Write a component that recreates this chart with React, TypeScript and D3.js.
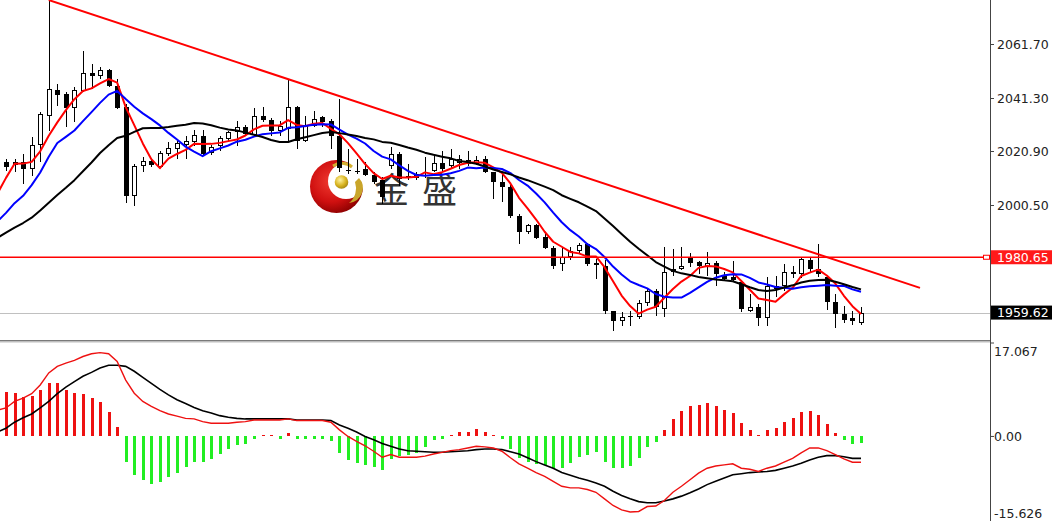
import React from "react";
import * as d3 from "d3";

// closes before the first visible bar (only used for the moving averages)
const warmupCloses = [1976, 1978, 1980, 1983, 1981, 1985, 1984, 1982, 1986, 1983, 1983, 1980, 1986, 1983, 1987, 1985, 1990, 2014, 2020];

const opens = [2016.4, 2016.9, 2015.7, 2016.9, 2014.2, 2023.3, 2034.3, 2044.2, 2042.7, 2037.4, 2043.8, 2050.7, 2049.5, 2051.8, 2045.7, 2037.8, 2004.0, 2015.3, 2017.2, 2015.0, 2019.9, 2021.8, 2023.3, 2024.6, 2026.9, 2020.3, 2023.1, 2025.6, 2028.3, 2030.2, 2027.1, 2034.3, 2032.8, 2028.6, 2029.4, 2037.8, 2024.9, 2030.5, 2033.9, 2032.4, 2026.7, 2013.4, 2013.2, 2014.2, 2011.9, 2010.0, 2015.3, 2019.9, 2010.8, 2012.3, 2011.5, 2013.4, 2016.5, 2015.3, 2016.5, 2017.6, 2016.1, 2018.0, 2013.0, 2009.3, 2007.4, 1996.3, 1990.3, 1992.9, 1988.4, 1984.2, 1978.1, 1980.8, 1983.0, 1985.7, 1978.5, 1977.3, 1960.2, 1956.4, 1958.0, 1958.0, 1963.3, 1967.9, 1961.0, 1976.2, 1976.2, 1980.4, 1978.8, 1977.0, 1978.5, 1973.5, 1973.1, 1971.2, 1960.3, 1961.8, 1957.6, 1969.7, 1969.7, 1975.0, 1974.3, 1979.6, 1976.2, 1973.1, 1963.7, 1959.0, 1957.6, 1956.0];
const highs = [2017.5, 2018.0, 2018.0, 2019.9, 2026.4, 2035.9, 2078.4, 2046.5, 2043.5, 2045.4, 2059.0, 2054.1, 2053.0, 2052.2, 2048.4, 2038.9, 2016.1, 2018.8, 2018.0, 2021.1, 2024.5, 2025.6, 2026.7, 2029.1, 2029.1, 2023.3, 2026.7, 2028.6, 2032.4, 2031.0, 2037.4, 2037.8, 2033.6, 2032.4, 2048.0, 2038.1, 2034.3, 2036.2, 2034.3, 2033.2, 2040.8, 2021.8, 2018.0, 2016.9, 2013.0, 2011.0, 2022.6, 2020.7, 2016.1, 2013.0, 2018.8, 2019.1, 2021.1, 2021.8, 2019.5, 2021.1, 2019.1, 2019.0, 2013.2, 2012.3, 2008.0, 1997.0, 1993.3, 1993.3, 1990.0, 1985.0, 1984.6, 1984.6, 1986.1, 1986.1, 1980.0, 1979.6, 1960.2, 1959.8, 1960.2, 1964.5, 1968.7, 1968.7, 1984.6, 1983.8, 1984.6, 1982.3, 1979.2, 1982.7, 1979.2, 1975.0, 1979.2, 1971.6, 1966.5, 1962.9, 1973.1, 1973.5, 1978.1, 1977.3, 1980.8, 1980.4, 1985.7, 1973.5, 1966.5, 1962.1, 1960.2, 1961.8];
const lows = [2014.0, 2013.4, 2013.0, 2008.5, 2011.5, 2016.9, 2028.6, 2038.1, 2030.2, 2032.1, 2043.5, 2044.6, 2048.4, 2045.4, 2037.0, 2001.3, 2000.1, 2013.0, 2015.0, 2014.6, 2019.1, 2018.0, 2018.0, 2023.0, 2019.2, 2019.5, 2021.0, 2024.5, 2023.0, 2026.7, 2026.3, 2032.0, 2026.7, 2026.7, 2024.5, 2021.8, 2024.5, 2030.2, 2030.2, 2021.8, 2013.0, 2012.2, 2012.2, 2011.5, 2008.5, 2001.0, 2014.2, 2007.7, 2010.0, 2010.0, 2010.8, 2013.0, 2013.0, 2014.2, 2014.2, 2015.3, 2015.7, 2012.8, 2002.8, 2001.7, 1995.5, 1985.7, 1989.5, 1987.5, 1983.8, 1976.2, 1975.4, 1979.6, 1982.3, 1977.3, 1972.4, 1959.0, 1952.6, 1954.5, 1954.5, 1957.0, 1962.0, 1958.4, 1958.0, 1973.5, 1975.8, 1977.0, 1974.3, 1973.5, 1969.7, 1971.6, 1971.2, 1960.0, 1959.8, 1954.5, 1954.5, 1965.6, 1967.9, 1972.7, 1972.7, 1975.0, 1973.1, 1960.6, 1953.8, 1955.6, 1955.0, 1955.0];
const closes = [2015.1, 2015.0, 2016.9, 2014.2, 2023.3, 2035.1, 2044.6, 2042.3, 2037.4, 2044.2, 2050.7, 2049.5, 2051.8, 2045.7, 2037.4, 2004.0, 2015.3, 2017.2, 2015.7, 2020.3, 2022.2, 2024.1, 2025.0, 2027.1, 2019.9, 2022.6, 2026.0, 2028.3, 2030.2, 2027.5, 2034.3, 2032.8, 2028.6, 2030.5, 2037.8, 2024.9, 2030.5, 2033.2, 2032.0, 2026.7, 2014.5, 2013.7, 2013.6, 2011.9, 2009.3, 2003.5, 2019.9, 2010.4, 2011.5, 2010.8, 2011.9, 2016.5, 2014.2, 2018.0, 2018.0, 2016.1, 2017.6, 2013.0, 2009.3, 2007.4, 1996.3, 1990.3, 1992.9, 1988.0, 1984.2, 1977.3, 1980.8, 1983.0, 1985.3, 1978.1, 1977.7, 1960.2, 1956.4, 1958.0, 1958.2, 1963.3, 1967.9, 1961.8, 1975.0, 1975.0, 1977.3, 1978.5, 1977.3, 1978.5, 1974.3, 1972.4, 1972.0, 1961.0, 1961.8, 1957.6, 1969.7, 1968.6, 1975.0, 1974.3, 1980.0, 1976.2, 1974.3, 1963.7, 1959.0, 1956.8, 1956.4, 1959.62];

const macdDif = [4.8, 5.2, 6.4, 7.0, 7.8, 9.4, 11.6, 12.8, 13.4, 13.9, 14.6, 15.1, 15.3, 15.1, 13.7, 10.3, 7.9, 6.4, 5.5, 4.7, 4.1, 3.7, 3.3, 3.2, 2.7, 2.4, 2.4, 2.4, 2.6, 2.7, 3.0, 3.0, 3.0, 3.0, 3.2, 2.9, 2.9, 2.9, 2.9, 2.6, 1.2, 0.0, -0.9, -1.7, -2.7, -3.8, -3.3, -3.8, -3.8, -3.8, -3.6, -3.2, -2.9, -2.6, -2.4, -2.1, -1.8, -1.9, -2.1, -2.7, -3.9, -5.0, -5.8, -6.6, -7.3, -8.2, -9.1, -9.4, -9.4, -9.7, -10.2, -11.4, -12.6, -13.4, -13.8, -13.7, -12.8, -12.7, -11.7, -10.2, -9.1, -7.9, -6.7, -5.8, -5.4, -5.2, -5.0, -5.8, -6.0, -6.4, -5.8, -5.4, -4.7, -4.0, -3.0, -2.1, -2.1, -2.6, -3.3, -4.1, -4.7, -4.7];
const macdDea = [0.8, 1.5, 2.6, 3.4, 4.1, 5.2, 6.4, 7.8, 9.0, 10.0, 11.0, 11.7, 12.5, 13.0, 13.0, 12.8, 11.9, 10.8, 9.7, 8.6, 7.6, 6.7, 6.0, 5.3, 4.7, 4.3, 3.8, 3.5, 3.3, 3.2, 3.2, 3.2, 3.2, 3.2, 3.2, 3.0, 3.0, 3.0, 3.0, 2.9, 2.1, 1.5, 0.8, 0.0, -0.6, -1.3, -1.8, -2.3, -2.6, -2.7, -2.8, -2.9, -2.9, -2.8, -2.7, -2.6, -2.4, -2.3, -2.3, -2.4, -2.8, -3.2, -3.9, -4.6, -5.2, -5.8, -6.6, -7.1, -7.6, -8.0, -8.5, -9.1, -10.0, -10.8, -11.4, -11.9, -12.1, -12.1, -11.8, -11.4, -10.9, -10.3, -9.6, -8.8, -8.2, -7.6, -7.0, -6.8, -6.6, -6.5, -6.4, -6.2, -5.8, -5.4, -4.9, -4.3, -3.8, -3.5, -3.5, -3.7, -4.0, -4.0];
const macdHist = [7.5, 8.2, 8.0, 7.2, 7.4, 8.5, 9.7, 9.7, 8.4, 7.9, 7.8, 7.0, 6.2, 4.4, 1.7, -4.6, -7.0, -8.0, -8.6, -8.4, -7.4, -6.6, -5.6, -4.6, -4.6, -4.1, -3.2, -2.3, -1.5, -1.3, -0.5, 0.2, 0.1, -0.5, 0.6, -0.5, -0.5, -0.4, -0.4, -0.9, -3.0, -4.3, -4.9, -5.2, -5.6, -6.2, -4.1, -3.5, -3.3, -3.0, -1.9, -0.7, -0.4, 0.1, 0.9, 0.9, 1.3, 0.85, 0.3, -0.5, -2.3, -4.0, -4.6, -5.0, -5.2, -5.8, -5.8, -4.9, -3.7, -3.3, -2.9, -4.6, -5.8, -5.7, -5.4, -4.0, -2.0, -1.1, 1.2, 3.2, 4.6, 5.5, 5.8, 6.1, 5.5, 4.9, 4.3, 2.4, 1.2, 0.2, 1.1, 1.5, 2.7, 3.3, 4.4, 4.6, 4.0, 2.3, 0.6, -0.6, -1.3, -1.2];

const priceTicks = ["2061.70", "2041.30", "2020.90", "2000.50"];
const macdTicks = ["17.067", "0.00", "-15.626"];
const levelPrice = 1980.65;
const lastPrice = 1959.62;
const trendLine = [
  { bar: 6, price: 2078.4 },
  { bar: 107.9, price: 1969.0 },
];
const maPeriods = [5, 10, 20];
const maColors = ["#ff0000", "#0000ff", "#000000"];

export default function App() {
  const W = 1052;
  const H = 521;
  const axisX = 990;
  const n = closes.length;
  const x = d3.scaleLinear().domain([0, n - 1]).range([-2.55, 861]);
  const y = d3.scaleLinear().domain([1949.2, 2078.8]).range([340, -1]);
  const ym = d3.scaleLinear().domain([-15.626, 17.067]).range([522, 343]);

  const all = warmupCloses.concat(closes);
  const w0 = warmupCloses.length;
  const sma = (p: number) =>
    closes.map((_, i) => d3.mean(all.slice(i + w0 - p + 1, i + w0 + 1)) as number);

  const priceLine = d3
    .line<number>()
    .x((_, i) => x(i))
    .y((d) => y(d));
  const macdLine = d3
    .line<number>()
    .x((_, i) => x(i))
    .y((d) => ym(d));

  const font = "DejaVu Sans, Verdana, sans-serif";
  const macdLabelY = [351, ym(0), 513];

  return (
    <svg
      width={W}
      height={H}
      style={{ position: "fixed", left: 0, top: 0, background: "#fff" }}
      fontFamily={font}
    >
      <defs>
        <clipPath id="mainClip">
          <rect x={0} y={0} width={axisX} height={340} />
        </clipPath>
        <clipPath id="macdClip">
          <rect x={0} y={343} width={axisX} height={H - 343} />
        </clipPath>
        <radialGradient id="redGrad" cx="40%" cy="40%" r="65%">
          <stop offset="0%" stopColor="#f03a30" />
          <stop offset="60%" stopColor="#d01010" />
          <stop offset="100%" stopColor="#8a0000" />
        </radialGradient>
        <radialGradient id="goldGrad" cx="40%" cy="35%" r="70%">
          <stop offset="0%" stopColor="#fff2a0" />
          <stop offset="60%" stopColor="#d8b420" />
          <stop offset="100%" stopColor="#a08010" />
        </radialGradient>
      </defs>
      <rect x={0} y={0} width={W} height={H} fill="#fff" />

      {/* watermark logo */}
      <g>
        <circle cx={336.5} cy={186.5} r={26.5} fill="url(#redGrad)" />
        <circle cx={346} cy={181} r={18} fill="#fff" />
        <path d="M 333 166 A 16 16 0 0 1 352 167" fill="none" stroke="#d4b030" strokeWidth={3} />
        <path d="M 359 178 A 15 15 0 0 1 349 203 A 19 19 0 0 0 355 182 Z" fill="#c9a52a" />
        <circle cx={341.5} cy={182} r={6.8} fill="url(#goldGrad)" />
        <text x={374} y={203} fontSize={35} fill="#333" fontFamily="Noto Sans CJK SC">金</text>
        <text x={422} y={203} fontSize={35} fill="#333" fontFamily="Noto Sans CJK SC">盛</text>
      </g>

      {/* main panel */}
      <g clipPath="url(#mainClip)">
        <line x1={0} x2={axisX} y1={Math.round(y(lastPrice)) + 0.5} y2={Math.round(y(lastPrice)) + 0.5} stroke="#c0c0c0" strokeWidth={1} />
        {closes.map((c, i) => {
          const cx = Math.round(x(i));
          const o = opens[i];
          const top = y(Math.max(o, c));
          const bot = y(Math.min(o, c));
          const bull = c >= o;
          const h = bot - top;
          return (
            <g key={i} shapeRendering="crispEdges">
              <line x1={cx + 0.5} x2={cx + 0.5} y1={y(highs[i])} y2={y(lows[i])} stroke="#000" strokeWidth={1} />
              {h < 1.5 ? (
                <line x1={cx - 2} x2={cx + 3} y1={Math.round(top) + 0.5} y2={Math.round(top) + 0.5} stroke="#000" />
              ) : bull ? (
                <rect x={cx - 1.5} y={Math.round(top) + 0.5} width={4} height={Math.round(h) - 1} fill="#fff" stroke="#000" strokeWidth={1} />
              ) : (
                <rect x={cx - 2} y={Math.round(top)} width={5} height={Math.round(h)} fill="#000" />
              )}
            </g>
          );
        })}
        {maPeriods.map((p, k) => (
          <path key={p} d={priceLine(sma(p)) || ""} fill="none" stroke={maColors[k]} strokeWidth={2} strokeLinejoin="round" />
        ))}
        <line
          x1={x(trendLine[0].bar)}
          y1={y(trendLine[0].price)}
          x2={x(trendLine[1].bar)}
          y2={y(trendLine[1].price)}
          stroke="#ff0000"
          strokeWidth={2}
        />
        <line x1={0} x2={axisX} y1={y(levelPrice)} y2={y(levelPrice)} stroke="#ff0000" strokeWidth={1.6} />
        <rect x={983.5} y={y(levelPrice) - 2} width={6} height={4} fill="#fff" stroke="#ff0000" strokeWidth={1} />
      </g>

      {/* panel separator */}
      <rect x={0} y={340} width={axisX} height={1.5} fill="#7a7a7a" />
      <rect x={0} y={341.5} width={axisX} height={1} fill="#c0c0c0" />

      {/* MACD panel */}
      <g clipPath="url(#macdClip)">
        {macdHist.map((v, i) => {
          const cx = Math.round(x(i));
          const y0 = ym(0);
          const y1 = ym(v);
          const hh = Math.max(1.5, Math.abs(y1 - y0));
          return (
            <rect
              key={i}
              x={cx - 1}
              y={v >= 0 ? y0 - hh : y0}
              width={3}
              height={hh}
              fill={v >= 0 ? "#ee1111" : "#22ee22"}
              shapeRendering="crispEdges"
            />
          );
        })}
        <path d={macdLine(macdDea) || ""} fill="none" stroke="#000" strokeWidth={1.6} />
        <path d={macdLine(macdDif) || ""} fill="none" stroke="#ee1111" strokeWidth={1.4} />
      </g>

      {/* right axis */}
      <line x1={axisX + 0.5} x2={axisX + 0.5} y1={0} y2={H} stroke="#444" strokeWidth={1} />
      {priceTicks.map((t) => {
        const yy = Math.round(y(+t)) + 0.5;
        return (
          <g key={t}>
            <line x1={axisX} x2={axisX + 4} y1={yy} y2={yy} stroke="#444" />
            <text x={997} y={yy} dy="0.36em" fontSize={12.5} fill="#222">{t}</text>
          </g>
        );
      })}
      <g>
        <rect x={991} y={y(levelPrice) - 7} width={61} height={14} fill="#ff1a1a" />
        <text x={997} y={y(levelPrice)} dy="0.36em" fontSize={12.5} fill="#fff">{levelPrice.toFixed(2)}</text>
      </g>
      <g>
        <rect x={991} y={y(lastPrice) - 7} width={61} height={14} fill="#000" />
        <text x={997} y={y(lastPrice)} dy="0.36em" fontSize={12.5} fill="#fff">{lastPrice.toFixed(2)}</text>
      </g>
      {macdTicks.map((t, k) => (
        <g key={t}>
          <line x1={axisX} x2={axisX + 4} y1={ym(+t)} y2={ym(+t)} stroke="#444" />
          <text x={994} y={macdLabelY[k]} dy="0.36em" fontSize={12.5} fill="#222">{t}</text>
        </g>
      ))}
    </svg>
  );
}
